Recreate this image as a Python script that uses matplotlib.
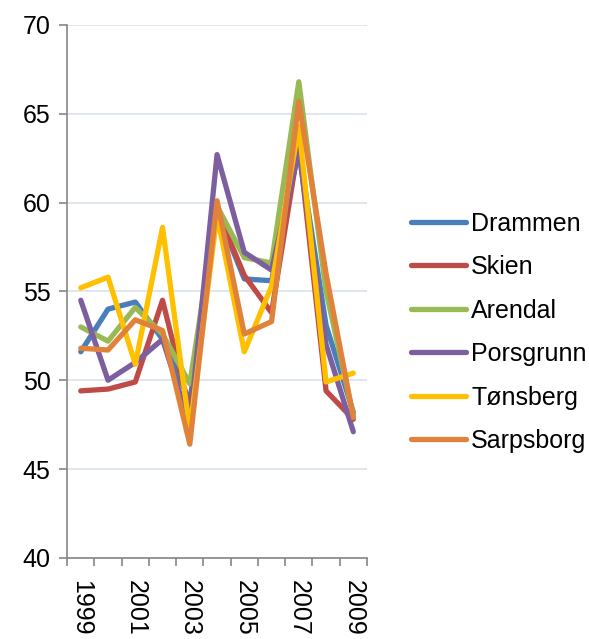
import numpy as np
import matplotlib.pyplot as plt

plt.rcParams['font.family'] = ['Liberation Sans', 'DejaVu Sans']

years = [1999, 2000, 2001, 2002, 2003, 2004, 2005, 2006, 2007, 2008, 2009]
tick_years = ["1999", "2001", "2003", "2005", "2007", "2009"]

drammen   = [51.6, 54.0, 54.4, 52.3, 48.8, 59.5, 55.7, 55.6, 63.0, 53.1, 48.2]
skien     = [49.4, 49.5, 49.9, 54.5, 48.3, 59.6, 55.9, 53.8, 63.3, 49.4, 47.8]
arendal   = [53.0, 52.2, 54.1, 52.6, 49.8, 59.8, 56.9, 56.6, 66.8, 55.0, 48.0]
porsgrunn = [54.5, 50.0, 51.0, 52.3, 47.5, 62.7, 57.2, 56.2, 62.9, 52.0, 47.1]
tonsberg  = [55.2, 55.8, 50.9, 58.6, 47.2, 59.3, 51.6, 55.3, 64.3, 49.9, 50.4]
sarpsborg = [51.8, 51.7, 53.4, 52.8, 46.4, 60.1, 52.6, 53.3, 65.7, 56.0, 47.9]

series = [
    ("Drammen", drammen, "#4A7EBB"),
    ("Skien", skien, "#BE4B48"),
    ("Arendal", arendal, "#98B954"),
    ("Porsgrunn", porsgrunn, "#7D5FA0"),
    ("Tønsberg", tonsberg, "#FFC000"),
    ("Sarpsborg", sarpsborg, "#E0823A"),
]

fig = plt.figure(figsize=(5.89, 6.39), dpi=100)
ax = fig.add_axes([0.114, 0.127, 0.509, 0.834])

x = np.arange(len(years))
for name, vals, col in series:
    ax.plot(x, vals, color=col, lw=3.8, label=name, solid_joinstyle='round',
            solid_capstyle='round')

ax.set_ylim(40, 70)
ax.set_yticks(range(40, 71, 5))
ax.set_xlim(-0.5, len(years) - 0.5)
ax.grid(axis='y', color='#D9E2EE', lw=1.2)
ax.set_axisbelow(True)

# category boundaries as minor ticks, labels on every other year
ax.set_xticks(np.arange(-0.5, len(years), 1.0), minor=True)
ax.set_xticks(x[::2])
ax.set_xticklabels(tick_years, rotation=270, va='top', ha='center')
ax.tick_params(axis='x', which='major', length=0, pad=16, labelsize=18)
ax.tick_params(axis='x', which='minor', length=6, color='#868686', width=1.2)
ax.tick_params(axis='y', length=6, color='#868686', width=1.2, labelsize=18, pad=6)

for s in ['top', 'right']:
    ax.spines[s].set_visible(False)
for s in ['left', 'bottom']:
    ax.spines[s].set_color('#868686')
    ax.spines[s].set_linewidth(1.2)

fig.legend(loc='center left', bbox_to_anchor=(0.66, 0.48), frameon=False,
           fontsize=18, handlelength=2.2, handletextpad=0.2, labelspacing=0.78)

plt.savefig("out.png", dpi=100)
